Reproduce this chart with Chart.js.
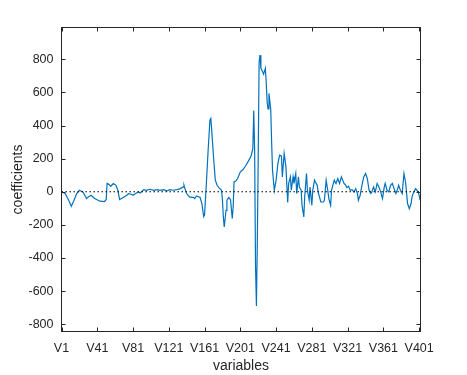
<!DOCTYPE html>
<html><head><meta charset="utf-8">
<script src="https://cdn.jsdelivr.net/npm/chart.js@4.4.1/dist/chart.umd.min.js"></script>
<style>html,body{margin:0;padding:0;background:#fff;}#wrap{width:467px;height:375px;}</style>
</head><body><div id="wrap"><canvas id="c" width="467" height="375"></canvas></div>
<script>
const variables = [1,5,9,12,15,18,21,25,29,31,34,38,44,49,51,52,54,56,59,62,64,66,70,74,76,79,81,84,87,89,93,96,100,104,108,111,115,119,122,126,130,134,137,138,139,141,144,149,150,152,156,158,160,161,163,165,167,168,169,171,173,175,177,180,181,182,183,185,186,188,190,192,193,194,196,198,201,204,207,210,213,215,216,217,218,219,220,221,222,223,224,226,227,229,230,231,232,233,235,236,237,239,241,243,245,247,248,250,252,254,255,257,258,260,261,263,264,266,267,269,270,272,273,275,276,278,279,281,282,284,285,287,288,291,294,295,297,299,300,302,303,306,308,310,312,314,317,319,320,322,324,326,328,330,332,333,335,337,339,341,343,345,347,348,350,352,354,356,358,360,362,363,365,367,369,371,373,375,377,378,380,382,384,386,388,390,392,393,395,397,399,401,402];
const coefficients = [0,-11,-51,-88,-51,-11,9,-1,-41,-31,-21,-41,-57,-59,-47,50,45,33,50,39,9,-47,-35,-21,-11,-15,-21,-11,-1,-7,13,9,15,9,13,9,13,5,13,9,13,19,29,39,19,-11,-31,-35,-41,-25,-35,-71,-150,-140,50,251,433,443,372,211,70,39,25,9,-51,-152,-213,-112,-51,-35,-47,-162,-92,59,65,80,120,134,157,185,216,260,490,250,-450,-690,-300,200,780,825,745,725,710,745,655,540,500,594,500,300,130,9,70,171,221,215,90,231,150,-65,50,90,9,90,50,110,-11,90,29,9,-82,-152,-31,110,9,-51,29,-82,9,70,59,39,-1,-62,-62,-51,70,-1,-41,-82,9,70,50,80,50,90,50,39,25,33,9,13,-1,19,-11,-51,-21,39,90,110,80,9,-11,-1,29,-1,50,29,-1,-41,29,50,9,-1,39,50,19,-11,19,39,9,-11,110,50,-71,-102,-71,-31,-1,19,5,-20,-50];
const xTickValues = [1,41,81,121,161,201,241,281,321,361,401];
const xTickLabels = ['V1','V41','V81','V121','V161','V201','V241','V281','V321','V361','V401'];
const yTickValues = [-800,-600,-400,-200,0,200,400,600,800];
const zeroLineX = [1, 402.5];
const zeroLineY = [0, 0];

const FONT = '"Liberation Sans", Arial, Helvetica, sans-serif';
const TXT = '#262626';

const boxPlugin = {
  id: 'box',
  afterDatasetsDraw(chart) {
    const {ctx, chartArea: a, scales: {x, y}} = chart;
    ctx.save();
    ctx.strokeStyle = TXT; ctx.lineWidth = 1;
    ctx.strokeRect(a.left, a.top, a.right - a.left, a.bottom - a.top);
    ctx.beginPath();
    const L = 4;
    x.ticks.forEach(t => {
      const px = Math.round(x.getPixelForValue(t.value)) + 0.5;
      ctx.moveTo(px, a.bottom); ctx.lineTo(px, a.bottom - L);
      ctx.moveTo(px, a.top); ctx.lineTo(px, a.top + L);
    });
    y.ticks.forEach(t => {
      const py = Math.round(y.getPixelForValue(t.value)) + 0.5;
      ctx.moveTo(a.left, py); ctx.lineTo(a.left + L, py);
      ctx.moveTo(a.right, py); ctx.lineTo(a.right - L, py);
    });
    ctx.stroke();
    ctx.restore();
  }
};

new Chart(document.getElementById('c'), {
  type: 'line',
  data: {
    datasets: [
      {
        data: zeroLineX.map((v, i) => ({x: v, y: zeroLineY[i]})),
        borderColor: '#000000', borderWidth: 1, borderDash: [1.5, 2.5], pointRadius: 0, fill: false
      },
      {
        data: variables.map((v, i) => ({x: v, y: coefficients[i]})),
        borderColor: '#0072BD', borderWidth: 1.2, pointRadius: 0, tension: 0, fill: false
      }
    ]
  },
  options: {
    responsive: false, animation: false, devicePixelRatio: 1,
    layout: {padding: {left: 0, top: 27.5, right: 46.5, bottom: 0}},
    plugins: {legend: {display: false}, tooltip: {enabled: false}},
    scales: {
      x: {
        type: 'linear', min: 1, max: 402.5,
        afterBuildTicks: s => { s.ticks = xTickValues.map(v => ({value: v})); },
        afterFit: s => { s.height = 43.5; },
        grid: {display: false, drawTicks: false},
        border: {display: false},
        ticks: {
          autoSkip: false, maxRotation: 0, padding: 10, color: TXT,
          font: {family: FONT, size: 12.5},
          callback: v => xTickLabels[xTickValues.indexOf(v)]
        },
        title: {display: true, text: 'variables', color: TXT, font: {family: FONT, size: 14}, padding: 0}
      },
      y: {
        min: -844, max: 992,
        afterBuildTicks: s => { s.ticks = yTickValues.map(v => ({value: v})); },
        afterFit: s => { s.width = 61.5; },
        grid: {display: false, drawTicks: false},
        border: {display: false},
        ticks: {padding: 8, color: TXT, font: {family: FONT, size: 12.5}},
        title: {display: true, text: 'coefficients', color: TXT, font: {family: FONT, size: 14}, padding: 10}
      }
    }
  },
  plugins: [boxPlugin]
});
</script></body></html>
